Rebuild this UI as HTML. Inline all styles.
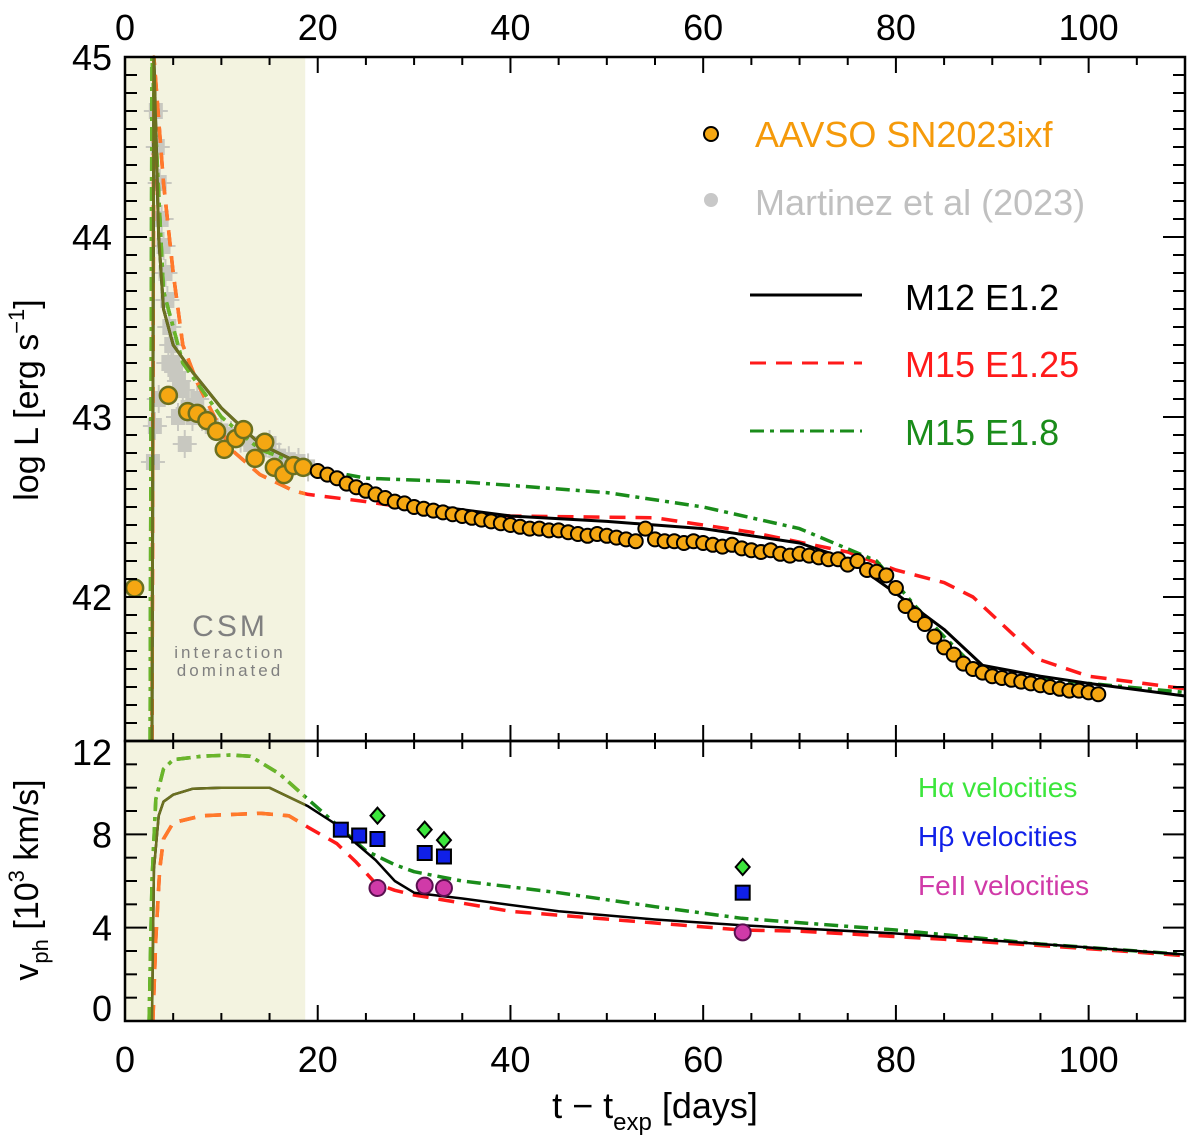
<!DOCTYPE html>
<html><head><meta charset="utf-8">
<style>
html,body{margin:0;padding:0;background:#fff;}
svg{display:block;font-family:"Liberation Sans",sans-serif;}
</style></head>
<body>
<svg id="chart" width="1200" height="1143" viewBox="0 0 1200 1143" xmlns="http://www.w3.org/2000/svg">
<g id="bg"></g>
<g id="marks"></g>
<g id="axes"></g>
<g id="legend"></g>
</svg>
<script>
// ---- data ----
const blackLDays = [2.8, 3.0, 3.5, 4, 5, 7, 10, 14, 19, 25, 30, 40, 50, 60, 70, 75, 80, 85, 89, 95, 100, 110];
const blackLVals = [41.2, 45.0, 44.0, 43.6, 43.4, 43.25, 43.05, 42.85, 42.72, 42.6, 42.52, 42.45, 42.42, 42.38, 42.3, 42.21, 42.02, 41.82, 41.62, 41.56, 41.52, 41.45];
const redLDays = [2.8, 3.0, 4, 5, 6, 7.5, 11, 14, 17.5, 19, 25, 30, 40, 55, 65, 75, 80, 85, 88, 91, 93, 95, 100, 110];
const redLVals = [41.2, 45.0, 44.3, 43.8, 43.4, 43.19, 42.82, 42.68, 42.59, 42.57, 42.53, 42.49, 42.45, 42.44, 42.36, 42.25, 42.15, 42.08, 42.0, 41.85, 41.75, 41.65, 41.56, 41.49];
const greenLDays = [2.6, 2.8, 4, 6, 10, 14, 19, 25, 35, 50, 60, 70, 78, 82, 85, 88, 92, 100, 110];
const greenLVals = [41.2, 45.0, 43.7, 43.3, 43.0, 42.82, 42.72, 42.66, 42.64, 42.58, 42.5, 42.38, 42.2, 41.95, 41.78, 41.62, 41.56, 41.52, 41.47];
const aavsoDays = [1.0, 4.5, 6.5, 7.5, 8.5, 9.5, 10.3, 11.5, 12.3, 13.5, 14.5, 15.5, 16.5, 17.5, 18.5,
 20,21,22,23,24,25,26,27,28,29,30,31,32,33,34,35,36,37,38,39,40,41,42,43,44,45,46,47,48,49,50,51,52,53,54,55,56,57,58,59,60,61,62,63,64,65,66,67,68,69,70,71,72,73,74,75,76,77,78,79,80,81,82,83,84,85,86,87,88,89,90,91,92,93,94,95,96,97,98,99,100,101];
const aavsoVals = [42.05, 43.12, 43.03, 43.02, 42.98, 42.92, 42.82, 42.88, 42.93, 42.77, 42.86, 42.72, 42.68, 42.73, 42.72,
 42.7,42.68,42.66,42.63,42.61,42.59,42.57,42.55,42.53,42.52,42.5,42.49,42.48,42.47,42.46,42.45,42.44,42.43,42.42,42.41,42.4,42.39,42.38,42.38,42.37,42.37,42.36,42.35,42.34,42.35,42.34,42.33,42.32,42.31,42.38,42.32,42.31,42.31,42.3,42.31,42.3,42.29,42.28,42.29,42.27,42.26,42.25,42.26,42.24,42.23,42.24,42.23,42.22,42.21,42.21,42.18,42.2,42.15,42.14,42.12,42.05,41.95,41.9,41.85,41.78,41.72,41.68,41.63,41.6,41.58,41.56,41.55,41.54,41.53,41.52,41.51,41.5,41.49,41.48,41.48,41.47,41.46,41.47];
const martDays = [3.2,3.4,3.6,3.8,4.0,4.2,4.4,4.6,4.8,5.0,5.3,5.6,6.0,6.5,7.0,7.5,8,9,10,11,12,13,14,15,16,17,18,19,2.9,3.1,3.5,4.5,5.5,6.2];
const martVals = [44.7,44.5,44.3,44.1,43.95,43.8,43.65,43.5,43.4,43.3,43.25,43.2,43.15,43.05,43.0,43.1,43.0,42.95,42.92,42.9,42.88,42.85,42.82,42.85,42.78,42.76,42.75,42.72,42.75,42.95,43.1,43.3,43.0,42.85];
const blackVDays = [2.8, 3.0, 3.5, 4, 5, 7, 10, 15, 19, 22, 24, 26, 28, 30, 35, 45, 55, 64, 80, 95, 110];
const blackVVals = [0, 6.5, 8.8, 9.4, 9.7, 9.95, 10.0, 10.0, 9.2, 8.4, 7.6, 6.9, 6.0, 5.5, 5.25, 4.7, 4.35, 4.1, 3.75, 3.3, 2.85];
const redVDays = [2.9, 3.2, 3.6, 4, 5, 8, 14, 17, 19, 22, 24, 26, 28, 30, 40, 55, 64, 70, 85, 100, 110];
const redVVals = [0, 3.5, 6.5, 7.8, 8.5, 8.8, 8.9, 8.8, 8.3, 7.6, 6.8, 5.9, 5.6, 5.4, 4.7, 4.2, 3.9, 3.85, 3.5, 3.1, 2.8];
const greenVDays = [2.5, 2.8, 3.2, 4, 5, 8, 11, 13, 16, 19, 22, 25, 28, 30, 35, 45, 55, 64, 80, 95, 110];
const greenVVals = [0, 6.0, 9.5, 10.8, 11.2, 11.35, 11.4, 11.35, 10.6, 9.5, 8.4, 7.3, 6.7, 6.4, 6.0, 5.5, 4.9, 4.4, 3.9, 3.3, 2.85];
const haDays = [26.2, 31.1, 33.1, 64.1];
const haVals = [8.8, 8.2, 7.75, 6.6];
const hbDays = [22.4, 24.3, 26.2, 31.1, 33.1, 64.1];
const hbVals = [8.2, 7.95, 7.8, 7.2, 7.05, 5.5];
const feDays = [26.2, 31.1, 33.1, 64.1];
const feVals = [5.7, 5.8, 5.7, 3.8];
const xTickLabels = ["0","20","40","60","80","100"];
const lTickLabels = ["42","43","44","45"];
const vTickLabels = ["0","4","8","12"];

// ---- axes ----
const X0=125, X1=1185, TOP=57, MID=741, BOT=1021;
const xs = d => X0 + (X1-X0)*d/110;
const yL = L => TOP + (45-L)*180;
const yV = v => BOT - (BOT-MID)*v/12;
const NS="http://www.w3.org/2000/svg";
function mk(parent, tag, attrs){const e=document.createElementNS(NS,tag);for(const k in attrs)e.setAttribute(k,attrs[k]);document.getElementById(parent).appendChild(e);return e;}
function pathOf(days, vals, yf){return days.map((d,i)=>(i?'L':'M')+xs(d).toFixed(1)+','+yf(vals[i]).toFixed(1)).join(' ');}

const defs=document.createElementNS(NS,'defs');
defs.innerHTML='<clipPath id="cTop"><rect x="125" y="57" width="1060" height="684"/></clipPath><clipPath id="cBot"><rect x="125" y="741" width="1060" height="280"/></clipPath><clipPath id="cShade"><rect x="125" y="0" width="'+(xs(18.7)-125)+'" height="1143"/></clipPath>';
document.getElementById('chart').prepend(defs);

let e;
e=mk('bg','rect',{x:X0,y:TOP,width:xs(18.7)-X0,height:BOT-TOP,fill:'#f3f3e0'});



martDays.forEach((d,i)=>{
  const g=mk('marks','g',{'clip-path':'url(#cTop)',fill:'#c8c8c0',stroke:'#c8c8c0'});
  
  
  const cx=xs(d), cy=yL(martVals[i]);
  g.innerHTML='<line x1="'+cx+'" y1="'+(cy-14)+'" x2="'+cx+'" y2="'+(cy+14)+'" stroke-width="2"/><line x1="'+(cx-12)+'" y1="'+cy+'" x2="'+(cx+12)+'" y2="'+cy+'" stroke-width="2"/><rect x="'+(cx-7)+'" y="'+(cy-8)+'" width="14" height="16" stroke="none"/>';
});

function curve(layer,days,vals,yf,color,dash,w,clip,name){
  const p=mk(layer,'path',{d:pathOf(days,vals,yf),fill:'none',stroke:color,'stroke-width':w,'stroke-dasharray':dash,'clip-path':clip,'stroke-linejoin':'round'});
  
  
  return p;
}
const RD='16,10', GD='14,6,4,6';
curve('marks',redLDays,redLVals,yL,'#ff1a1a',RD,3.5,'url(#cTop)','m15-e125-luminosity');
curve('marks',greenLDays,greenLVals,yL,'#1a8c1a',GD,3.5,'url(#cTop)','m15-e18-luminosity');
curve('marks',blackLDays,blackLVals,yL,'#000',null,3,'url(#cTop)','m12-e12-luminosity');
curve('marks',redLDays,redLVals,yL,'#ff7a2a',RD,3.5,'url(#cShade)','m15-e125-luminosity-csm');
curve('marks',greenLDays,greenLVals,yL,'#6bb52a',GD,3.5,'url(#cShade)','m15-e18-luminosity-csm');
curve('marks',blackLDays,blackLVals,yL,'#6b7020',null,3,'url(#cShade)','m12-e12-luminosity-csm');

aavsoDays.forEach((d,i)=>{
  const early=d<19;
  const c=mk('marks','circle',{cx:xs(d),cy:yL(aavsoVals[i]),r:early?8.5:7,fill:'#f5a712',stroke:early?'#6b7020':'#000','stroke-width':early?2.5:2});
  
  
});

curve('marks',redVDays,redVVals,yV,'#ff1a1a',RD,3.5,'url(#cBot)','m15-e125-velocity');
curve('marks',greenVDays,greenVVals,yV,'#1a8c1a',GD,3.5,'url(#cBot)','m15-e18-velocity');
curve('marks',blackVDays,blackVVals,yV,'#000',null,2.5,'url(#cBot)','m12-e12-velocity');
curve('marks',redVDays,redVVals,yV,'#ff7a2a',RD,3.5,'url(#cShade)','m15-e125-velocity-csm');
curve('marks',greenVDays,greenVVals,yV,'#6bb52a',GD,3.5,'url(#cShade)','m15-e18-velocity-csm');
curve('marks',blackVDays,blackVVals,yV,'#6b7020',null,2.5,'url(#cShade)','m12-e12-velocity-csm');

feDays.forEach((d,i)=>{
  const c=mk('marks','circle',{cx:xs(d),cy:yV(feVals[i]),r:8,fill:'#d03aa8',stroke:'#5a1050','stroke-width':2});
  
  
});
hbDays.forEach((d,i)=>{
  const c=mk('marks','rect',{x:xs(d)-7,y:yV(hbVals[i])-7,width:14,height:14,fill:'#1020e8',stroke:'#000','stroke-width':2});
  
  
});
haDays.forEach((d,i)=>{
  const cx=xs(d), cy=yV(haVals[i]);
  const c=mk('marks','polygon',{points:(cx)+','+(cy-8)+' '+(cx+7)+','+cy+' '+cx+','+(cy+8)+' '+(cx-7)+','+cy,fill:'#3ce63c',stroke:'#000','stroke-width':2});
  
  
});

e=mk('axes','rect',{x:X0,y:TOP,width:X1-X0,height:MID-TOP,fill:'none',stroke:'#000','stroke-width':2.5});


e=mk('axes','rect',{x:X0,y:MID,width:X1-X0,height:BOT-MID,fill:'none',stroke:'#000','stroke-width':2.5});



for(let d=0; d<=110; d+=5){
  const maj=d%20===0, len=maj?16:8, x=xs(d);
  [[TOP,1],[MID,-1],[MID,1],[BOT,-1]].forEach(([y,s])=>{
    const t=mk('axes','line',{x1:x,y1:y,x2:x,y2:y+s*len,stroke:'#000','stroke-width':2});
    
    
  });
}
xTickLabels.forEach((lab)=>{
  const d=+lab;
  let t=mk('axes','text',{x:xs(d),y:40,'text-anchor':'middle','font-size':36});
  t.textContent=lab;
  
  
  t=mk('axes','text',{x:xs(d),y:1072,'text-anchor':'middle','font-size':36});
  t.textContent=lab;
  
  
});
for(let k=0;k<=38;k++){
  const L=41.3+k*0.1; const y=yL(L); if(y<TOP||y>MID) continue;
  const maj=Math.abs(L-Math.round(L))<1e-6, len=maj?22:12;
  [[X0,1],[X1,-1]].forEach(([x,s])=>{
    const t=mk('axes','line',{x1:x,y1:y,x2:x+s*len,y2:y,stroke:'#000','stroke-width':2});
    
    
  });
}
lTickLabels.forEach(lab=>{
  const t=mk('axes','text',{x:112,y:yL(+lab)+13,'text-anchor':'end','font-size':36});
  t.textContent=lab;
  
  
});
for(let v=1;v<12;v++){
  const y=yV(v), maj=v%4===0, len=maj?22:12;
  [[X0,1],[X1,-1]].forEach(([x,s])=>{
    const t=mk('axes','line',{x1:x,y1:y,x2:x+s*len,y2:y,stroke:'#000','stroke-width':2});
    
    
  });
}
vTickLabels.forEach(lab=>{
  const v=+lab; let y=yV(v)+13; if(v===0) y=BOT; if(v===12) y=MID+24;
  const t=mk('axes','text',{x:112,y:y,'text-anchor':'end','font-size':36});
  t.textContent=lab;
  
  
});
</script>
<script>
const svgEl=document.getElementById('chart');
svgEl.insertAdjacentHTML('beforeend',
'<text x="655" y="1118" text-anchor="middle" font-size="36">t − t<tspan font-size="24" dy="12">exp</tspan><tspan dy="-12"> [days]</tspan></text>'+
'<text transform="translate(38,400) rotate(-90)" text-anchor="middle" font-size="34">log L [erg s<tspan font-size="22" dy="-14">−1</tspan><tspan dy="14">]</tspan></text>'+
'<text transform="translate(38,880) rotate(-90)" text-anchor="middle" font-size="34">v<tspan font-size="22" dy="10">ph</tspan><tspan dy="-10"> [10</tspan><tspan font-size="22" dy="-14">3</tspan><tspan dy="14"> km/s]</tspan></text>'+
'<g fill="#808080" text-anchor="middle"><text x="230" y="636" font-size="30" letter-spacing="3">CSM</text><text x="230" y="658" font-size="17" letter-spacing="3">interaction</text><text x="230" y="676" font-size="17" letter-spacing="3">dominated</text></g>'+
'<g><circle cx="711" cy="134" r="7" fill="#f5a712" stroke="#000" stroke-width="2"/><text x="755" y="147" font-size="36" fill="#f59a0a">AAVSO SN2023ixf</text></g>'+
'<g><circle cx="711" cy="200" r="7" fill="#c8c8c8"/><text x="755" y="215" font-size="36" fill="#c0c0c0">Martinez et al (2023)</text></g>'+
'<g><line x1="750" y1="295" x2="862" y2="295" stroke="#000" stroke-width="3"/><text x="905" y="310" font-size="36" fill="#000">M12 E1.2</text></g>'+
'<g><line x1="750" y1="363" x2="862" y2="363" stroke="#ff1a1a" stroke-width="3" stroke-dasharray="16,10"/><text x="905" y="377" font-size="36" fill="#ff1a1a">M15 E1.25</text></g>'+
'<g><line x1="750" y1="431" x2="862" y2="431" stroke="#1a8c1a" stroke-width="3" stroke-dasharray="14,6,4,6"/><text x="905" y="445" font-size="36" fill="#1a8c1a">M15 E1.8</text></g>'+
'<text x="918" y="797" font-size="28" fill="#3ce63c">Hα velocities</text>'+
'<text x="918" y="846" font-size="28" fill="#1020e8">Hβ velocities</text>'+
'<text x="918" y="895" font-size="28" fill="#d03aa8">FeII velocities</text>');
</script>
</body></html>
